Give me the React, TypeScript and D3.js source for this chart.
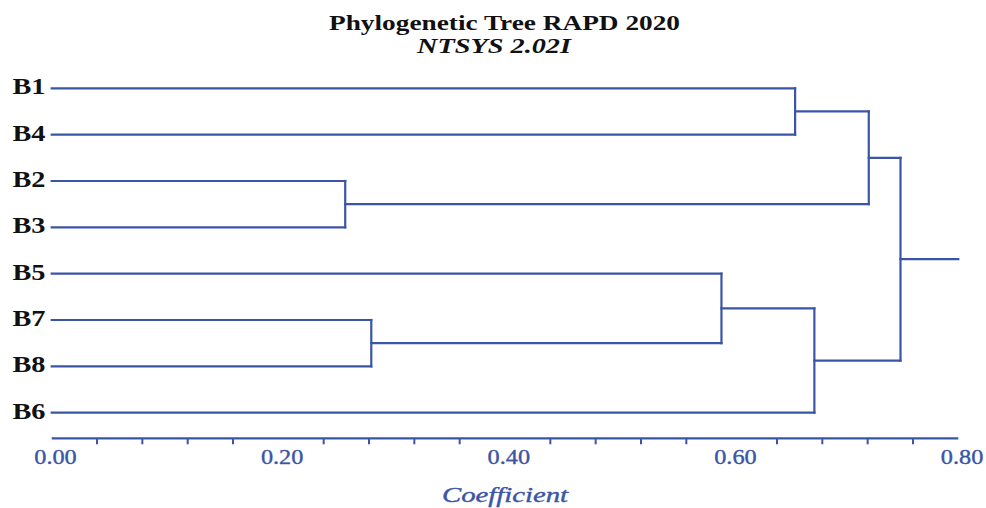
import React from "react";
import * as d3 from "d3";

// leaf order top to bottom
const leaves = ["B1", "B4", "B2", "B3", "B5", "B7", "B8", "B6"];

// merges (UPGMA style): name, left child, right child, coefficient
const joinNames = ["n1", "n2", "n3", "n4", "n5", "n6", "root"];
const joinLeft = ["B2", "B7", "B5", "B1", "n3", "n4", "n6"];
const joinRight = ["B3", "B8", "n2", "B4", "B6", "n1", "n5"];
const joinCoef = [0.259, 0.282, 0.591, 0.656, 0.673, 0.721, 0.749];

const labelTicks = [0, 0.2, 0.4, 0.6, 0.8];
const tickLabels = ["0.00", "0.20", "0.40", "0.60", "0.80"];
const minorTicks = [0.04, 0.08, 0.12, 0.16, 0.24, 0.28, 0.32, 0.36, 0.44, 0.48, 0.52, 0.56, 0.64, 0.68, 0.72, 0.76];

const BLUE = "#3b55a6";
const SERIF = "'Liberation Serif', 'Times New Roman', Times, serif";
const W = 986;
const H = 508;

type Node = { name: string; coef: number; children?: Node[] };

function buildTree(): Node {
  const map: Record<string, Node> = {};
  leaves.forEach((l) => (map[l] = { name: l, coef: 0 }));
  joinNames.forEach((n, i) => {
    map[n] = { name: n, coef: joinCoef[i], children: [map[joinLeft[i]], map[joinRight[i]]] };
  });
  return map["root"];
}

export default function App() {
  const x = d3.scaleLinear().domain([0, 0.8]).range([51.7, 958.3]);
  const y = d3.scalePoint<string>().domain(leaves).range([88.3, 412.7]);
  const axisY = 438.3;

  const root = d3.hierarchy(buildTree());
  // y of each node: leaves from scale, internal = midpoint of children
  const yPos = new Map<any, number>();
  root.eachAfter((d) => {
    if (!d.children) yPos.set(d, y(d.data.name) as number);
    else {
      const ys = d.children.map((c) => yPos.get(c) as number);
      yPos.set(d, (ys[0] + ys[ys.length - 1]) / 2);
    }
  });

  const segs: { x1: number; y1: number; x2: number; y2: number }[] = [];
  root.each((d) => {
    if (!d.children) return;
    const px = x(d.data.coef);
    const ys = d.children.map((c) => yPos.get(c) as number);
    segs.push({ x1: px, y1: ys[0], x2: px, y2: ys[1] });
    d.children.forEach((c) => {
      const cy = yPos.get(c) as number;
      segs.push({ x1: x(c.data.coef), y1: cy, x2: px, y2: cy });
    });
  });
  const ry = yPos.get(root) as number;
  segs.push({ x1: x(root.data.coef), y1: ry, x2: x(0.8), y2: ry });

  return (
    <svg width={W} height={H} style={{ position: "absolute", left: 0, top: 0, background: "#fff" }}>
      <text x={504.5} y={30} textAnchor="middle" fontFamily={SERIF} fontWeight="bold" fontSize={22}
        textLength={351} lengthAdjust="spacingAndGlyphs" fill="#111">
        Phylogenetic Tree RAPD 2020
      </text>
      <text x={494} y={53} textAnchor="middle" fontFamily={SERIF} fontWeight="bold" fontStyle="italic"
        fontSize={22} textLength={154} lengthAdjust="spacingAndGlyphs" fill="#111">
        NTSYS 2.02I
      </text>

      {segs.map((s, i) => (
        <line key={i} x1={s.x1} y1={s.y1} x2={s.x2} y2={s.y2} stroke={BLUE} strokeWidth={2.2} strokeLinecap="square" />
      ))}

      {leaves.map((l) => (
        <text key={l} x={45.5} y={(y(l) as number) + 6} textAnchor="end" fontFamily={SERIF}
          fontWeight="bold" fontSize={23} textLength={33} lengthAdjust="spacingAndGlyphs" fill="#111">
          {l}
        </text>
      ))}

      <line x1={x(0)} x2={x(0.8)} y1={axisY} y2={axisY} stroke={BLUE} strokeWidth={2.2} />
      {minorTicks.map((t) => (
        <line key={t} x1={x(t)} x2={x(t)} y1={axisY} y2={axisY + 6} stroke={BLUE} strokeWidth={2} />
      ))}
      {labelTicks.map((t, i) => (
        <text key={t} x={x(t) + 3.8} y={464} textAnchor="middle" fontFamily={SERIF} fontSize={22}
          textLength={42.5} lengthAdjust="spacingAndGlyphs" fill={BLUE} stroke={BLUE} strokeWidth={0.4}>
          {tickLabels[i]}
        </text>
      ))}
      <text x={505} y={502} textAnchor="middle" fontFamily={SERIF} fontStyle="italic" fontSize={22}
        textLength={126} lengthAdjust="spacingAndGlyphs" fill={BLUE} stroke={BLUE} strokeWidth={0.4}>
        Coefficient
      </text>
    </svg>
  );
}
